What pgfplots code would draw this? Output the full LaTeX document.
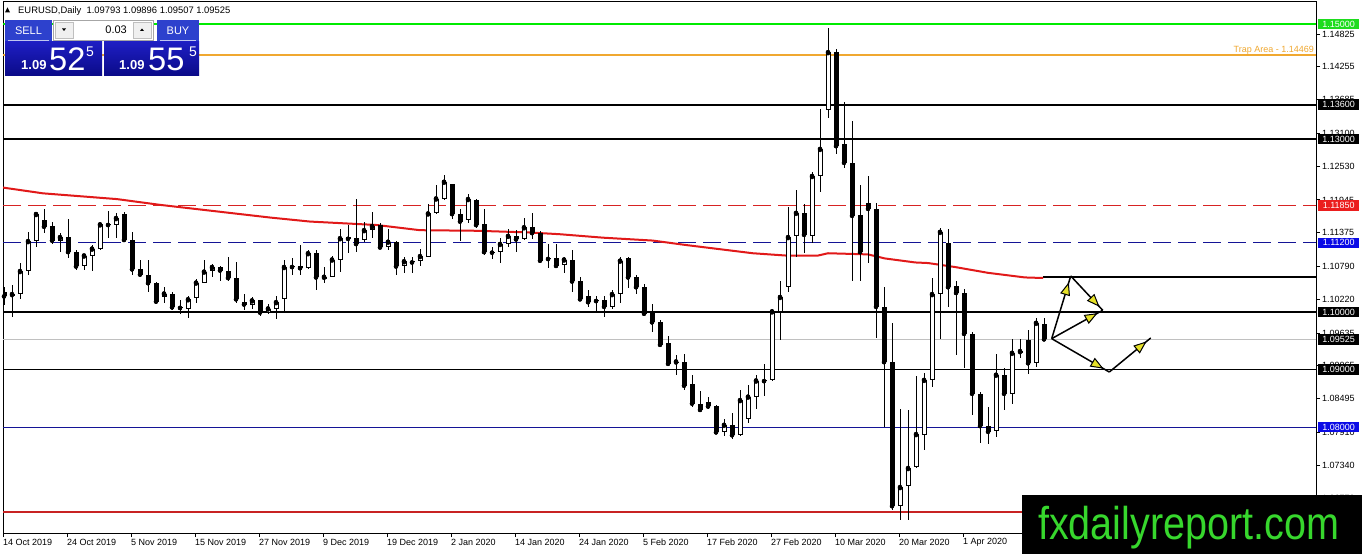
\documentclass[border=0pt]{standalone}
\usepackage{pgfplots}
\pgfplotsset{compat=1.18}
\usepackage{pgfplotstable}
\usepackage{fontspec}
\setmainfont{Liberation Sans}
\usetikzlibrary{arrows.meta,decorations.markings}
\definecolor{limeG}{RGB}{0,235,0}
\definecolor{labG}{RGB}{30,220,30}
\definecolor{trapO}{RGB}{240,168,48}
\definecolor{resRed}{RGB}{215,35,35}
\definecolor{labRed}{RGB}{235,30,30}
\definecolor{navyL}{RGB}{20,20,150}
\definecolor{labBlue}{RGB}{10,10,230}
\definecolor{botRed}{RGB}{200,35,35}
\definecolor{maRed}{RGB}{225,25,25}
\definecolor{bidGray}{RGB}{192,192,192}
\definecolor{fxGreen}{RGB}{55,215,45}
\definecolor{arrowY}{RGB}{230,225,40}
\definecolor{btnBlue}{RGB}{45,65,205}
\definecolor{boxTop}{RGB}{30,30,195}
\definecolor{boxBot}{RGB}{10,10,135}
\newcommand\lbl{\fontsize{9}{10}\selectfont}
\pgfplotstableread{
k o h l c
0 1.1034 1.1043 1.1013 1.1027
5 1.1160 1.1178 1.1138 1.1148
6 1.1149 1.1156 1.1118 1.1124
8 1.1130 1.1161 1.1093 1.1104
9 1.1104 1.1108 1.1073 1.1079
13 1.1153 1.1175 1.1128 1.1151
15 1.1170 1.1174 1.1124 1.1125
16 1.1125 1.1139 1.1064 1.1074
17 1.1074 1.1091 1.1064 1.1065
18 1.1065 1.1091 1.1035 1.1050
19 1.1050 1.1052 1.1016 1.1018
21 1.1032 1.1034 1.1003 1.1008
22 1.1009 1.1021 1.0997 1.1007
27 1.1078 1.1080 1.1054 1.1072
28 1.1072 1.1096 1.1053 1.1059
29 1.1059 1.1086 1.1016 1.1022
30 1.1018 1.1032 1.1003 1.1013
32 1.1020 1.1021 1.0993 1.0999
36 1.1080 1.1093 1.1065 1.1078
37 1.1079 1.1116 1.1064 1.1076
39 1.1102 1.1108 1.1039 1.1060
43 1.1130 1.1151 1.1102 1.1127
44 1.1128 1.1197 1.1105 1.1118
47 1.1151 1.1154 1.1109 1.1112
49 1.1122 1.1124 1.1065 1.1079
51 1.1089 1.1095 1.1068 1.1086
56 1.1222 1.1223 1.1162 1.1170
57 1.1170 1.1178 1.1124 1.1157
59 1.1194 1.1197 1.1145 1.1151
60 1.1153 1.1178 1.1099 1.1104
61 1.1105 1.1112 1.1092 1.1103
64 1.1132 1.1142 1.1104 1.1126
66 1.1147 1.1171 1.1126 1.1137
67 1.1137 1.1141 1.1086 1.1089
68 1.1094 1.1118 1.1076 1.1092
69 1.1093 1.1118 1.1079 1.1080
71 1.1091 1.1108 1.1035 1.1053
72 1.1054 1.1060 1.1020 1.1022
73 1.1027 1.1038 1.1009 1.1017
74 1.1021 1.1027 1.0998 1.1019
75 1.1021 1.1028 1.0992 1.1009
78 1.1093 1.1095 1.1041 1.1060
79 1.1061 1.1064 1.1031 1.1043
80 1.1043 1.1049 1.0994 1.0997
81 1.1000 1.1014 1.0965 1.0982
82 1.0983 1.0986 1.0941 1.0943
83 1.0946 1.0958 1.0907 1.0910
85 1.0914 1.0927 1.0865 1.0872
86 1.0875 1.0891 1.0835 1.0841
87 1.0841 1.0862 1.0829 1.0830
88 1.0844 1.0852 1.0831 1.0836
89 1.0837 1.0839 1.0788 1.0791
91 1.0804 1.0824 1.0779 1.0786
95 1.0882 1.0909 1.0854 1.0880
100 1.1172 1.1188 1.1102 1.1134
104 1.1451 1.1457 1.1274 1.1288
105 1.1292 1.1365 1.1250 1.1259
106 1.1259 1.1332 1.1054 1.1167
107 1.1168 1.1220 1.1054 1.1104
108 1.1189 1.1236 1.1085 1.1179
109 1.1179 1.1189 1.0955 1.1009
110 1.1009 1.1043 1.0800 1.0913
111 1.0913 1.0981 1.0656 1.0663
118 1.1120 1.1144 1.1009 1.1043
119 1.1045 1.1054 1.0925 1.1033
120 1.1033 1.1040 1.0903 1.0962
121 1.0962 1.0965 1.0821 1.0858
122 1.0858 1.0861 1.0773 1.0802
123 1.0802 1.0835 1.0771 1.0792
125 1.0891 1.0903 1.0830 1.0858
128 1.0951 1.0969 1.0892 1.0911
130 1.09793 1.09896 1.09507 1.09525
}\bear
\pgfplotstableread{
k o h l c
1 1.1027 1.1047 1.0991 1.1031
2 1.1032 1.1085 1.1022 1.1071
3 1.1071 1.1139 1.1065 1.1123
4 1.1123 1.1171 1.1113 1.1170
7 1.1124 1.1138 1.1105 1.1130
10 1.1079 1.1101 1.1073 1.1098
11 1.1098 1.1117 1.1072 1.1110
12 1.1110 1.1154 1.1108 1.1152
14 1.1151 1.1171 1.1128 1.1163
20 1.1026 1.1043 1.1016 1.1032
23 1.1006 1.1028 1.0989 1.1022
24 1.1024 1.1058 1.1015 1.1051
25 1.1051 1.1090 1.1050 1.1070
26 1.1071 1.1083 1.1061 1.1078
31 1.1013 1.1026 1.1005 1.1020
33 1.0999 1.1014 1.0997 1.1006
34 1.1006 1.1028 1.0987 1.1017
35 1.1022 1.1090 1.1001 1.1078
38 1.1076 1.1108 1.1075 1.1102
40 1.1057 1.1078 1.1051 1.1061
41 1.1061 1.1097 1.1060 1.1091
42 1.1091 1.1144 1.1070 1.1128
45 1.1125 1.1157 1.1122 1.1142
46 1.1142 1.1173 1.1128 1.1149
48 1.1112 1.1144 1.1108 1.1122
50 1.1079 1.1095 1.1067 1.1088
52 1.1088 1.1109 1.1080 1.1097
53 1.1096 1.1187 1.1095 1.1171
54 1.1172 1.1220 1.1170 1.1197
55 1.1196 1.1238 1.1194 1.1226
58 1.1159 1.1205 1.1154 1.1196
62 1.1104 1.1128 1.1085 1.1118
63 1.1118 1.1144 1.1112 1.1132
65 1.1127 1.1163 1.1125 1.1147
70 1.1081 1.1096 1.1068 1.1091
76 1.1009 1.1039 1.1006 1.1031
77 1.1031 1.1095 1.1016 1.1089
84 1.0911 1.0925 1.0891 1.0914
90 1.0791 1.0814 1.0785 1.0804
92 1.0786 1.0865 1.0785 1.0847
93 1.0814 1.0873 1.0807 1.0853
94 1.0853 1.0891 1.0831 1.0881
96 1.0882 1.1006 1.0880 1.1001
97 1.1000 1.1053 1.0951 1.1026
98 1.1043 1.1182 1.1035 1.1130
99 1.1132 1.1212 1.1095 1.1172
101 1.1132 1.1243 1.1120 1.1236
102 1.1236 1.1352 1.1208 1.1283
103 1.1351 1.1493 1.1337 1.1451
112 1.0663 1.0832 1.0639 1.0696
113 1.0698 1.0830 1.0639 1.0729
114 1.0731 1.0889 1.0730 1.0788
115 1.0786 1.0894 1.0760 1.0882
116 1.0882 1.1059 1.0870 1.1031
117 1.1031 1.1146 1.0953 1.1139
124 1.0793 1.0927 1.0783 1.0891
126 1.0858 1.0953 1.0840 1.0929
127 1.0929 1.0953 1.0920 1.0932
129 1.0911 1.0990 1.0905 1.0981
}\bull
\tikzset{arrowline/.style={black, line width=1.5pt, postaction={decorate},
  decoration={markings, mark=at position 0.9 with {\arrow{Triangle[length=13pt,width=10pt,fill=arrowY,line width=1pt]}}}}}
\begin{document}
\begin{tikzpicture}
\useasboundingbox (0,0) rectangle (1362pt,554pt);
\fill[white] (0,0) rectangle (1362pt,554pt);
\begin{axis}[at={(3pt,21pt)}, anchor=south west, scale only axis,
  width=1313pt, height=531pt,
  xmin=-0.125, xmax=164, ymin=1.061632, ymax=1.153819,
  axis line style={line width=1pt},
  scaled ticks=false,
  xtick={-0.125,7.875,15.875,23.875,31.875,39.875,47.875,55.875,63.875,71.875,79.875,87.875,95.875,103.875,111.875,119.875},
  ytick={1.06770,1.07340,1.07910,1.08495,1.09065,1.09635,1.10220,1.10790,1.11375,1.11945,1.12530,1.13100,1.13685,1.14255,1.14825},
  xticklabels={}, yticklabels={},
  xtick pos=left, ytick pos=right, tick align=outside,
  major tick length=4pt, tick style={black, line width=1pt}]
% horizontal levels
\addplot[limeG, line width=2pt] coordinates {(-0.125,1.15) (164,1.15)};
\addplot[trapO, line width=2pt] coordinates {(-0.125,1.14469) (164,1.14469)};
\addplot[black, line width=2pt] coordinates {(-0.125,1.136) (164,1.136)};
\addplot[black, line width=2pt] coordinates {(-0.125,1.13) (164,1.13)};
\addplot[resRed, line width=1pt, dash pattern=on 18pt off 7pt] coordinates {(-0.125,1.1185) (164,1.1185)};
\addplot[navyL, line width=1pt, dash pattern=on 18pt off 7pt] coordinates {(-0.125,1.112) (164,1.112)};
\addplot[black, line width=2pt] coordinates {(-0.125,1.10) (164,1.10)};
\addplot[bidGray, line width=1pt] coordinates {(-0.125,1.09525) (164,1.09525)};
\addplot[black, line width=1pt] coordinates {(-0.125,1.09) (164,1.09)};
\addplot[navyL, line width=1pt] coordinates {(-0.125,1.08) (164,1.08)};
\addplot[botRed, line width=2.5pt] coordinates {(-0.125,1.0653) (164,1.0653)};
\addplot[black, line width=2pt] coordinates {(129.9,1.1060) (164,1.1060)};
% moving average
\addplot[maRed, line width=2pt] coordinates {
(-0.125,1.1216) (4.875,1.1206) (14.125,1.1196) (19.5,1.1186) (24.5,1.1178)
(33.25,1.1164) (38.25,1.1157) (46.6,1.1151) (52,1.1142) (59.1,1.1141)
(65.75,1.1138) (69.5,1.1135) (74.9,1.1129) (81.1,1.1124) (85.4,1.1116)
(89.5,1.1109) (93.6,1.1102) (97.75,1.1098) (101.75,1.1098) (103,1.1102)
(108,1.1100) (110.1,1.1093) (113.9,1.1086) (115.5,1.1085) (118.9,1.1078)
(123,1.1068) (127.6,1.1060) (129.9,1.1059)};
% wicks
\addplot[only marks, mark=none, forget plot, error bars/.cd, y dir=both, y explicit, error mark=none,
  error bar style={draw=black, line width=1pt}]
  table[x=k, y=c, y error plus expr=\thisrow{h}-\thisrow{c}, y error minus expr=\thisrow{c}-\thisrow{l}] {\bear};
\addplot[only marks, mark=none, forget plot, error bars/.cd, y dir=both, y explicit, error mark=none,
  error bar style={draw=black, line width=1pt}]
  table[x=k, y=c, y error plus expr=\thisrow{h}-\thisrow{c}, y error minus expr=\thisrow{c}-\thisrow{l}] {\bull};
% bodies
\addplot[only marks, mark=none, forget plot, error bars/.cd, y dir=plus, y explicit, error mark=none,
  error bar style={draw=black, line width=5pt}]
  table[x=k, y=c, y error expr=\thisrow{o}-\thisrow{c}] {\bear};
\addplot[only marks, mark=none, forget plot, error bars/.cd, y dir=minus, y explicit, error mark=none,
  error bar style={draw=black, line width=5pt}]
  table[x=k, y=c, y error expr=\thisrow{c}-\thisrow{o}] {\bull};
\addplot[only marks, mark=none, forget plot, error bars/.cd, y dir=minus, y explicit, error mark=none,
  error bar style={draw=white, line width=3pt}]
  table[x=k, y expr=\thisrow{c}-0.000174, y error expr={max(\thisrow{c}-\thisrow{o}-0.000348,0)}] {\bull};
% arrows
\draw[arrowline] (axis cs:130.96,1.09537) -- (axis cs:133.34,1.10625);
\draw[arrowline] (axis cs:133.34,1.10625) -- (axis cs:137.34,1.10030);
\draw[arrowline] (axis cs:130.96,1.09537) -- (axis cs:137.34,1.10030);
\draw[arrowline] (axis cs:130.96,1.09537) -- (axis cs:138.16,1.08958);
\draw[arrowline] (axis cs:138.16,1.08958) -- (axis cs:143.34,1.09549);
\end{axis}
\begin{scope}[shift={(0pt,554pt)}, x=1pt, y=-1pt]
% right axis labels
\foreach \v/\yy in {1.14825/34.1,1.14255/66.9,1.13685/99.7,1.13100/133.4,1.12530/166.3,1.11945/200.0,1.11375/232.8,1.10790/266.5,1.10220/299.3,1.09635/333.0,1.09065/365.9,1.08495/398.7,1.07910/432.4,1.07340/465.2,1.06770/498.0}
  \node[anchor=west, inner sep=0pt, font=\lbl] at (1322,\yy) {\v};
% level tags
\foreach \v/\yy/\bg in {1.15000/24/labG,1.13600/104.6/black,1.13000/139.2/black,1.11850/205.4/labRed,1.11200/242.9/labBlue,1.10000/312/black,1.09525/339.4/black,1.09000/369.6/black,1.08000/427.2/labBlue}
  \node[anchor=west, inner sep=0pt, fill=\bg, text=white, minimum width=41pt, minimum height=10.5pt, font=\lbl] at (1318,\yy) {\v};
\node[anchor=east, inner sep=0pt, text=trapO, font=\lbl] at (1314,50.5) {Trap Area - 1.14469};
% date labels
\foreach \d [count=\j from 0] in {14 Oct 2019,24 Oct 2019,5 Nov 2019,15 Nov 2019,27 Nov 2019,9 Dec 2019,19 Dec 2019,2 Jan 2020,14 Jan 2020,24 Jan 2020,5 Feb 2020,17 Feb 2020,27 Feb 2020,10 Mar 2020,20 Mar 2020,1 Apr 2020}
  \node[anchor=west, inner sep=0pt, font=\lbl] at ({3+64*\j},542) {\d};
% header
\fill[black] (5,12.5) -- (10,12.5) -- (7.5,7.5) -- cycle;
\node[anchor=west, inner sep=0pt, font=\fontsize{9.4}{10}\selectfont] at (18,11) {EURUSD,Daily\ \ 1.09793 1.09896 1.09507 1.09525};
% trade panel
\fill[btnBlue] (5,20) rectangle (52,42);
\fill[btnBlue] (157,20) rectangle (199,42);
\draw[white!70!btnBlue, line width=0.8pt] (8,40.5) -- (49,40.5);
\draw[white!70!btnBlue, line width=0.8pt] (160,40.5) -- (196,40.5);
\node[text=white, font=\fontsize{11}{12}\selectfont] at (28.5,31) {SELL};
\node[text=white, font=\fontsize{11}{12}\selectfont] at (178,31) {BUY};
\filldraw[fill=white, draw=black!35] (53,20) rectangle (153,40);
\filldraw[fill=black!6, draw=black!25] (55,22) rectangle (73,38);
\filldraw[fill=black!6, draw=black!25] (133,22) rectangle (151,38);
\fill[black] (62,28.5) -- (66,28.5) -- (64,31) -- cycle;
\fill[black] (140,31) -- (144,31) -- (142,28.5) -- cycle;
\node[anchor=east, inner sep=0pt, font=\fontsize{11}{12}\selectfont] at (127,30) {0.03};
\shade[top color=boxTop, bottom color=boxBot] (5,42) rectangle (102,76);
\shade[top color=boxTop, bottom color=boxBot] (104,42) rectangle (199,76);
\node[anchor=base west, inner sep=0pt, text=white, font=\fontsize{13}{14}\selectfont\bfseries] at (21,70) {1.09};
\node[anchor=base west, inner sep=0pt, text=white, font=\fontsize{32.6}{34}\selectfont] at (49,71) {52};
\node[anchor=base west, inner sep=0pt, text=white, font=\fontsize{14}{15}\selectfont] at (86,57) {5};
\node[anchor=base west, inner sep=0pt, text=white, font=\fontsize{13}{14}\selectfont\bfseries] at (119,70) {1.09};
\node[anchor=base west, inner sep=0pt, text=white, font=\fontsize{32.6}{34}\selectfont] at (148,71) {55};
\node[anchor=base west, inner sep=0pt, text=white, font=\fontsize{14}{15}\selectfont] at (189,57) {5};
% watermark box
\fill[black] (1022,495) rectangle (1362,554);
\node[anchor=base west, inner sep=0pt, text=fxGreen, font=\fontsize{46}{48}\selectfont] at (1038,539) {\scalebox{0.86}[1]{fxdailyreport.com}};
\end{scope}
\end{tikzpicture}
\end{document}
